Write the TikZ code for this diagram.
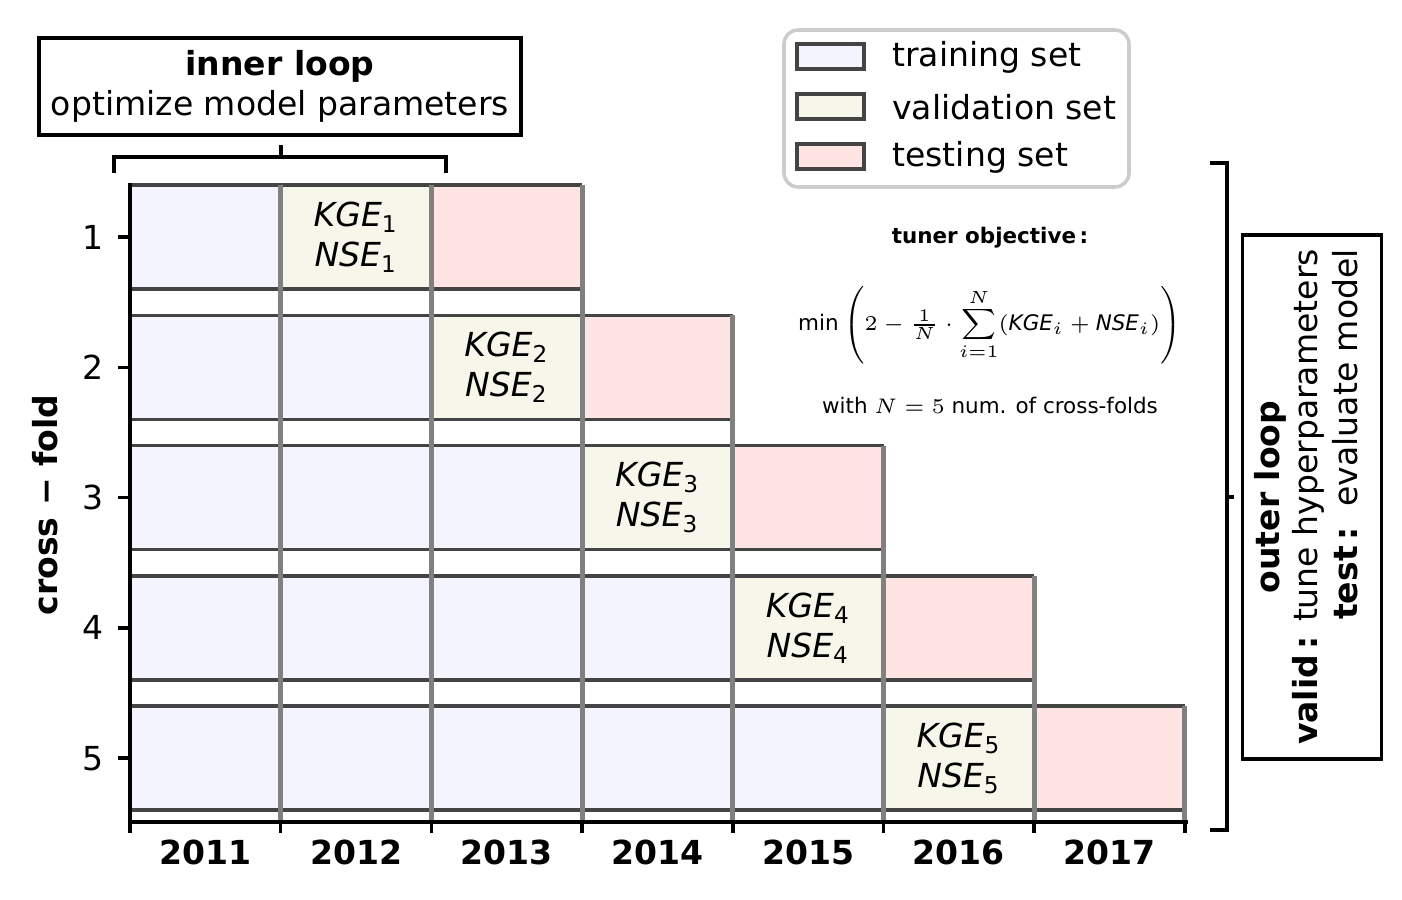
\documentclass[tikz,border=0pt]{standalone}
\usepackage{amsmath}
\usepackage{fontspec}
\setmainfont{DejaVu Sans}
\usepackage{xcolor}
\usepackage{tikz}
\usetikzlibrary{positioning}
\definecolor{trainblue}{RGB}{243, 244, 254}
\definecolor{validbeige}{RGB}{247, 246, 235}
\definecolor{testred}{RGB}{255, 228, 228}
\definecolor{edgegray}{RGB}{68, 68, 68}
\definecolor{linegray}{RGB}{128, 128, 128}
\definecolor{legendgray}{RGB}{204, 204, 204}

\begin{document}
\begin{tikzpicture}[
    x=0.01cm, y=-0.01cm,
    txt/.style={font=\fontsize{9.4}{11.4}\selectfont},
    small/.style={font=\fontsize{6.1}{7.3}\selectfont},
    edge/.style={draw=edgegray, line width=1pt},
    vline/.style={draw=linegray, line width=1.4pt},
    spine/.style={draw=black, line width=1pt},
    patch/.style={draw=edgegray, line width=1pt},
]
    \useasboundingbox (0,0) rectangle (1402,900);

    % Bars of the cross-folds
    \foreach \r in {1,...,5} {
        \pgfmathsetmacro{\rowtop}{185+130.3*(\r-1)}
        \pgfmathsetmacro{\rowbot}{\rowtop+104}
        \pgfmathsetmacro{\xval}{130+150.7*\r}
        \pgfmathsetmacro{\xtest}{\xval+150.7}
        \pgfmathsetmacro{\xend}{\xtest+150.7}
        \fill[trainblue] (130,\rowtop) rectangle (\xval,\rowbot);
        \fill[validbeige] (\xval,\rowtop) rectangle (\xtest,\rowbot);
        \fill[testred] (\xtest,\rowtop) rectangle (\xend,\rowbot);
        \draw[edge] (130,\rowtop) -- (\xend,\rowtop) (130,\rowbot) -- (\xend,\rowbot);
        \node[txt, align=center] (val\r) at ({(\xval+\xtest)/2},{\rowtop+52})
            {\textit{KGE}\textsubscript{\r}\\\textit{NSE}\textsubscript{\r}};
        % Y ticks
        \draw[spine] (118,{\rowtop+52}) -- (130,{\rowtop+52});
        \node[txt, left] (fold\r) at (116,{\rowtop+52}) {\r};
    }

    % Year boundaries
    \foreach \k in {1,...,7} {
        \pgfmathsetmacro{\vstart}{185+130.3*max(0,\k-3)}
        \draw[vline] ({130+150.7*\k},\vstart) -- ({130+150.7*\k},822);
    }

    % Axes
    \draw[spine] (130,183) -- (130,822) -- (1188,822);
    \foreach \k/\yr in {0/2011, 1/2012, 2/2013, 3/2014, 4/2015, 5/2016, 6/2017} {
        \draw[spine] ({130+150.7*\k},822) -- ({130+150.7*\k},833);
        \node[txt, font=\fontsize{9.4}{11.4}\selectfont\bfseries] (year\yr) at ({130+150.7*(\k+0.5)},852) {\yr};
    }
    \draw[spine] (1185,822) -- (1185,833);
    \node[txt, font=\fontsize{9.4}{11.4}\selectfont\bfseries, rotate=90] (ylabel) at (45,505) {cross − fold};

    % Inner loop
    \node[txt, draw, line width=1pt, align=center, minimum width=4.82cm, minimum height=0.97cm]
        (inner) at (280,86.5) {\textbf{inner loop}\\optimize model parameters};
    \draw[spine] (114,173) -- (114,157) -- (446,157) -- (446,173);
    \draw[spine] (281,157) -- (281,145);

    % Legend
    \draw[legendgray, line width=1pt, rounded corners=4pt] (784,30) rectangle (1129,187);
    \draw[patch, fill=trainblue] (797,44) rectangle (864,69);
    \draw[patch, fill=validbeige] (797,94) rectangle (864,119);
    \draw[patch, fill=testred] (797,144) rectangle (864,169);
    \node[txt, anchor=west] (legtrain) at (880,57) {training set};
    \node[txt, anchor=west] (legvalid) at (880,107) {validation set};
    \node[txt, anchor=west] (legtest) at (880,157) {testing set};

    % Tuner objective
    \node[small] (objtitle) at (990,238) {\textbf{tuner objective\,:}};
    \node[small] (objformula) at (990,325)
        {$\displaystyle\min\left(2-\tfrac{1}{N}\cdot\sum_{i=1}^{N}(\textit{KGE}_i+\textit{NSE}_i)\right)$};
    \node[small] (objnote) at (990,405) {with $N=5$ num. of cross-folds};

    % Outer loop
    \draw[spine] (1210,163) -- (1227,163) -- (1227,830) -- (1210,830);
    \draw[spine] (1227,497) -- (1234,497);
    \node[txt, draw, line width=1pt, rotate=90, align=center, minimum width=5.24cm, minimum height=1.38cm]
        (outer) at (1312,497) {\textbf{outer loop}\\
        \begin{tabular}{@{}r@{}}\textbf{valid\,:} tune hyperparameters\\\textbf{test\,:}\ \ evaluate model\end{tabular}};
\end{tikzpicture}
\end{document}
